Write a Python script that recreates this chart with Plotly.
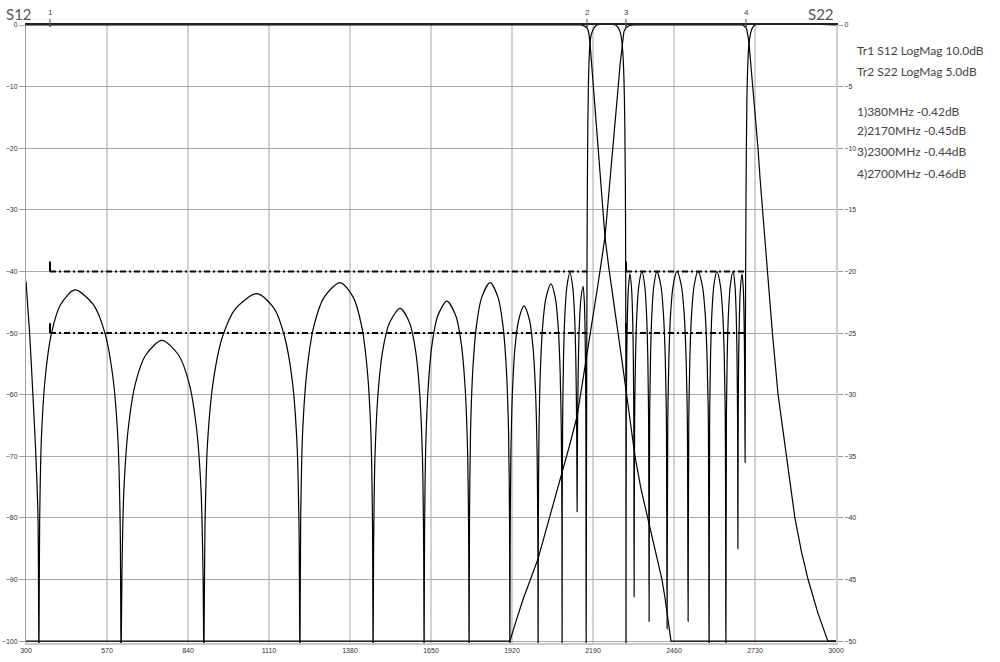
import plotly.graph_objects as go

# ---------------- data ----------------
# Tr1 S12 (left axis, dB) - low channel
s12_low_f = [300, 2150, 2160, 2165, 2170, 2174, 2177, 2180, 2185, 2190, 2205, 2218, 2230, 2243, 2255, 2273,
             2288, 2303, 2316, 2330, 2350, 2373, 2390, 2407, 2420, 2430, 2440, 2450, 3000]
s12_low_db = [0, 0, -0.15, -0.25, -0.45, -0.9, -1.6, -2.9, -6, -9.2, -18.6, -27, -34.4, -39.5, -43.5, -49.4,
              -55, -60.3, -65.3, -70, -75.3, -80.2, -83.6, -87, -90, -93, -96.3, -100, -100]

# Tr1 S12 (left axis, dB) - high channel
s12_high_f = [300, 1913, 1935, 1957, 1982, 2007, 2047, 2087, 2112, 2137, 2160, 2183, 2207, 2230, 2245, 2260,
              2274, 2280, 2287, 2290, 2293, 2300, 2305, 2310, 2318, 2325,
              2690, 2695, 2700, 2703, 2705, 2708, 2710, 2718, 2727, 2733, 2740, 2747, 2755, 2762, 2770,
              2788, 2807, 2835, 2863, 2885, 2907, 2940, 2973, 3000]
s12_high_db = [-100, -100, -96.5, -93.2, -89.9, -86.6, -79.6, -72.7, -68.2, -63.5, -56.6, -49.4, -42, -34.4, -26.5, -17.8,
               -10, -6.5, -2.9, -1.8, -1.1, -0.44, -0.25, -0.12, -0.04, 0,
               0, -0.2, -0.46, -0.8, -1.3, -2.0, -2.9, -7.5, -12.4, -16.5, -20, -25, -30, -35, -40,
               -50, -60, -70, -80, -85.5, -90, -95.5, -100, -100]

# Tr2 S22 (right axis, dB)
s22_f = [
    300, 312, 323, 333, 340, 343,
    345.4, 351.4, 364.6, 385, 415, 463, 524.6, 563.1, 589.3, 606.2, 613.9, 617,
    619.7, 626.5, 641.5, 664.6, 698.6, 753, 809, 844, 867.8, 883.2, 890.2, 893,
    896.5, 905.4, 924.9, 954.9, 999.2, 1070, 1127.2, 1162, 1187.3, 1203, 1210.1, 1213,
    1215.7, 1222.4, 1237.1, 1259.9, 1293.4, 1347, 1391, 1418.5, 1437.2, 1449.3, 1454.8, 1457,
    1458.8, 1463.3, 1473.2, 1488.5, 1511, 1547, 1579, 1599, 1612.6, 1621.4, 1625.4, 1627,
    1628.5, 1632.3, 1640.7, 1653.6, 1672.6, 1703, 1732.6, 1751.1, 1763.7, 1771.8, 1775.5, 1777,
    1778.4, 1781.9, 1789.6, 1801.5, 1819, 1847, 1873.4, 1889.9, 1901.1, 1908.4, 1911.7, 1913,
    1913.9, 1916.3, 1921.5, 1929.5, 1941.8, 1960, 1978.8, 1990.5, 1998.5, 2003.7, 2006.1, 2007,
    2007.9, 2010, 2014.7, 2022, 2032.8, 2050, 2064.8, 2074, 2080.3, 2084.4, 2086.3, 2087,
    2087.5, 2088.8, 2091.7, 2096.1, 2102.6, 2113, 2122.6, 2128.6, 2132.7, 2135.3, 2136.5, 2137,
    2138.4, 2140.6, 2144, 2149, 2157, 2161, 2163.5, 2165.2, 2166.3, 2167,
    2168, 2170, 2172, 2175, 2179, 2184, 2192, 2203,
    2265, 2275, 2282, 2287, 2292, 2296, 2298.5, 2299.6, 2300,
    2300.9, 2302.3, 2304.5, 2307.8, 2313, 2318.6, 2322.1, 2324.5, 2326, 2327,
    2328.8, 2331.7, 2336.1, 2342.6, 2353, 2362.6, 2368.6, 2372.7, 2375.3, 2377,
    2378.8, 2381.7, 2386.1, 2392.6, 2403, 2416.6, 2424.9, 2430.9, 2434.6, 2437,
    2439.3, 2442.9, 2448.5, 2456.8, 2470, 2484.8, 2494.1, 2500.3, 2504.4, 2507,
    2509.3, 2512.9, 2518.5, 2526.8, 2540, 2554.8, 2564.1, 2570.3, 2574.4, 2577,
    2578.8, 2581.7, 2586.1, 2592.6, 2603, 2615, 2622.5, 2627.6, 2630.9, 2633,
    2634.7, 2637.3, 2641.4, 2647.4, 2657, 2663.4, 2667.4, 2670.1, 2671.9, 2673,
    2674, 2675.5, 2677.9, 2681.4, 2687, 2691, 2693.5, 2695.2, 2696.3, 2697,
    2698, 2700, 2703, 2707, 2710, 2715, 2721, 2730, 3000,
]
s22_db = [
    -20.8, -25, -30, -35, -40, -52,
    -40.5, -33.5, -28.5, -25, -22.7, -21.5, -22.7, -25, -28.5, -33.5, -40.5, -52,
    -44.6, -37.6, -32.6, -29.1, -26.8, -25.6, -26.8, -29.1, -32.6, -37.6, -44.6, -52,
    -40.8, -33.8, -28.8, -25.3, -23.0, -21.8, -23.0, -25.3, -28.8, -33.8, -40.8, -52,
    -39.9, -32.9, -27.9, -24.4, -22.1, -20.9, -22.1, -24.4, -27.9, -32.9, -39.9, -52,
    -42, -35, -30, -26.5, -24.2, -23, -24.2, -26.5, -30, -35, -42, -52,
    -41.4, -34.4, -29.4, -25.9, -23.6, -22.4, -23.6, -25.9, -29.4, -34.4, -41.4, -52,
    -39.9, -32.9, -27.9, -24.4, -22.1, -20.9, -22.1, -24.4, -27.9, -32.9, -39.9, -52,
    -41.8, -34.8, -29.8, -26.3, -24.0, -22.8, -24.0, -26.3, -29.8, -34.8, -41.8, -52,
    -40, -33, -28, -24.5, -22.2, -21, -22.2, -24.5, -28, -33, -40, -52,
    -39.1, -32.1, -27.1, -23.6, -21.3, -20.1, -21.3, -23.6, -27.1, -32.1, -37, -39.5,
    -33.2, -28.2, -24.7, -22.4, -21.2, -22.4, -24.7, -28.2, -33.2, -52,
    -40, -20, -10, -4.5, -1.8, -0.8, -0.3, 0,
    0, -0.25, -0.7, -1.5, -3.5, -8, -16, -30, -52,
    -32.2, -27.2, -23.7, -21.4, -20.2, -21.4, -23.7, -27.2, -32.2, -46.4,
    -32, -27, -23.5, -21.2, -20, -21.2, -23.5, -27, -32, -48.4,
    -32, -27, -23.5, -21.2, -20, -21.2, -23.5, -27, -32, -49,
    -32, -27, -23.5, -21.2, -20, -21.2, -23.5, -27, -32, -48.4,
    -32, -27, -23.5, -21.2, -20, -21.2, -23.5, -27, -32, -52,
    -32, -27, -23.5, -21.2, -20, -21.2, -23.5, -27, -32, -52,
    -32, -27, -23.5, -21.2, -20, -21.2, -23.5, -27, -32, -42.5,
    -32.2, -27.2, -23.7, -21.4, -20.2, -21.4, -23.7, -27.2, -32.2, -35.5,
    -25, -14, -6, -2.6, -1.5, -0.7, -0.25, 0, 0,
]

# limit lines (S22, right axis)
lim_start = [380, 2300]
lim_stop = [2170, 2700]
lim_levels = [-20, -25]

# markers
mk_labels = ["1", "2", "3", "4"]
mk_freq = [380, 2170, 2300, 2700]
mk_val = [-0.42, -0.45, -0.44, -0.46]

x_ticks = [300, 570, 840, 1110, 1380, 1650, 1920, 2190, 2460, 2730, 3000]
y1_ticks = [0, -10, -20, -30, -40, -50, -60, -70, -80, -90, -100]
y2_ticks = [0, -5, -10, -15, -20, -25, -30, -35, -40, -45, -50]

info_lines = ["Tr1 S12 LogMag 10.0dB", "Tr2 S22 LogMag 5.0dB",
              "1)380MHz -0.42dB", "2)2170MHz -0.45dB", "3)2300MHz -0.44dB", "4)2700MHz -0.46dB"]
info_y = [50, 71, 111, 131, 152, 173]

# ---------------- figure ----------------
FONT = "Lato, Liberation Sans, sans-serif"
TICKFONT = "Liberation Sans Narrow, Liberation Sans, sans-serif"
fig = go.Figure()

spl = dict(color="black", width=1.2, shape="spline", smoothing=0.8)
lin = dict(color="black", width=1.2)
fig.add_trace(go.Scatter(x=s22_f, y=s22_db, mode="lines", line=spl, yaxis="y2", hoverinfo="skip"))
fig.add_trace(go.Scatter(x=s12_low_f, y=s12_low_db, mode="lines", line=lin, hoverinfo="skip"))
fig.add_trace(go.Scatter(x=s12_high_f, y=s12_high_db, mode="lines", line=lin, hoverinfo="skip"))

for lv in lim_levels:
    for a, b in zip(lim_start, lim_stop):
        fig.add_trace(go.Scatter(x=[a, b], y=[lv, lv], mode="lines", yaxis="y2",
                                 line=dict(color="black", width=2, dash="6px,3px,2px,3px"), hoverinfo="skip"))
        fig.add_trace(go.Scatter(x=[a, a], y=[lv + 0.8, lv], mode="lines", yaxis="y2",
                                 line=dict(color="black", width=2), hoverinfo="skip"))

for lab, f, v in zip(mk_labels, mk_freq, mk_val):
    fig.add_annotation(x=f, y=v, xref="x", yref="y", text=lab, showarrow=True,
                       ax=0, ay=-15, arrowhead=2, arrowsize=0.6, arrowwidth=1, arrowcolor="#555",
                       standoff=0, font=dict(size=8, color="#444", family=TICKFONT))

# titles
fig.add_annotation(xref="paper", yref="paper", x=(19 - 26) / 810, y=(643 - 14) / 618, text="S12",
                   showarrow=False, xanchor="center", yanchor="middle",
                   font=dict(size=15, color="#555", family=FONT))
fig.add_annotation(xref="paper", yref="paper", x=(821 - 26) / 810, y=(643 - 14) / 618, text="S22",
                   showarrow=False, xanchor="center", yanchor="middle",
                   font=dict(size=15, color="#555", family=FONT))

for txt, py in zip(info_lines, info_y):
    fig.add_annotation(xref="paper", yref="paper", x=(855 - 26) / 810, y=(643 - py) / 618,
                       text=txt, showarrow=False, xanchor="left", yanchor="middle",
                       font=dict(size=12, color="#444", family=FONT))

tickfont = dict(size=7, color="#333", family=TICKFONT)
fig.update_layout(
    width=1000, height=662,
    margin=dict(l=26, r=164, t=25, b=19, autoexpand=False),
    paper_bgcolor="white", plot_bgcolor="white",
    showlegend=False,
    xaxis=dict(range=[300, 3000], tickvals=x_ticks, ticktext=[str(v) for v in x_ticks],
               showgrid=True, gridcolor="#d2d2d2", gridwidth=2, zeroline=False, automargin=False,
               showline=True, linecolor="#c8c8c8", linewidth=2, ticks="", tickfont=tickfont),
    xaxis2=dict(range=[300, 3000], overlaying="x", side="top", showgrid=False, showticklabels=False,
                zeroline=False, showline=True, linecolor="#222", linewidth=2, ticks="", automargin=False),
    yaxis=dict(range=[-100.3, 0], tickvals=y1_ticks, showgrid=True, gridcolor="#a8a8a8", gridwidth=1,
               zeroline=False, showline=True, linecolor="#a0a0a0", linewidth=1, automargin=False,
               ticks="outside", ticklen=6, tickcolor="#a0a0a0", tickfont=tickfont),
    yaxis2=dict(range=[-50.15, 0], tickvals=y2_ticks, overlaying="y", side="right", showgrid=False,
                zeroline=False, showline=True, linecolor="#cfcfcf", linewidth=2, automargin=False,
                ticks="outside", ticklen=5, tickcolor="#a0a0a0", tickfont=tickfont),
)
# dummy trace to activate top axis line
fig.add_trace(go.Scatter(x=[300], y=[None], xaxis="x2", mode="lines", hoverinfo="skip"))

fig.write_html("out.html", config={"displayModeBar": False},
               post_script="document.body.style.margin='0px';")
